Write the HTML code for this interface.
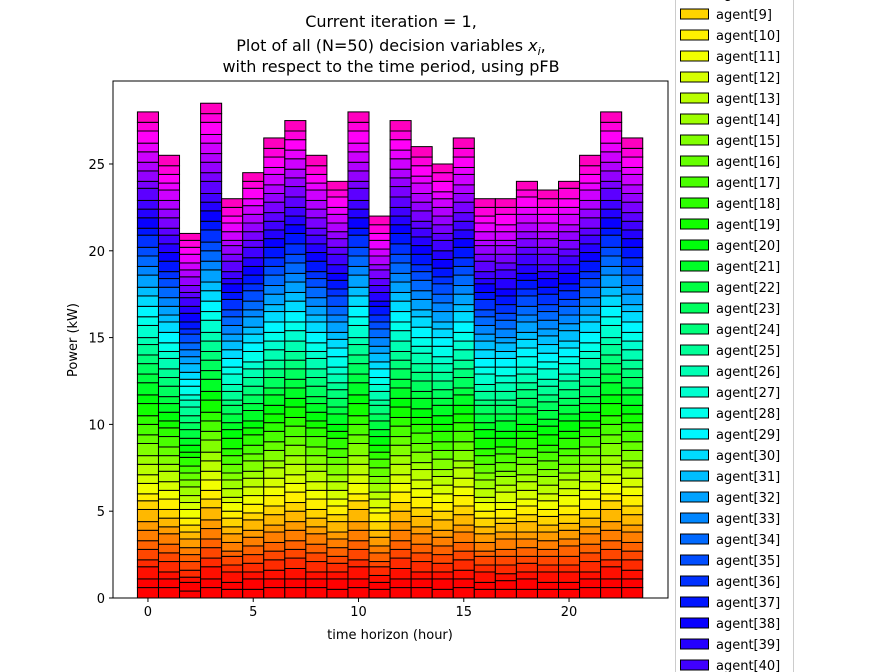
<!DOCTYPE html>
<html><head><meta charset="utf-8"><style>
html,body{margin:0;padding:0;background:#fff;}
svg{display:block;font-family:"DejaVu Sans","Liberation Sans",sans-serif;}
</style></head><body>
<svg id="chart" width="895" height="672" viewBox="0 0 895 672">
<rect width="895" height="672" fill="#fff"/>
<g font-size="16" text-anchor="middle" fill="#000">
<text x="391" y="27">Current iteration = 1,</text>
<text x="391" y="51">Plot of all (N=50) decision variables <tspan font-style="italic">x</tspan><tspan font-style="italic" font-size="11" dy="4">i</tspan><tspan dy="-4">,</tspan></text>
<text x="391" y="72">with respect to the time period, using pFB</text>
</g>
<g id="bars"></g>
<rect x="113" y="81" width="555" height="517" fill="none" stroke="#000" stroke-width="1"/>
<g id="xticks"></g>
<g id="yticks"></g>
<text x="390" y="639" font-size="13" text-anchor="middle">time horizon (hour)</text>
<text x="0" y="0" font-size="13" text-anchor="middle" transform="translate(77,340) rotate(-90)">Power (kW)</text>
<g id="legend"></g>
</svg>
<script>
const hours = [0,1,2,3,4,5,6,7,8,9,10,11,12,13,14,15,16,17,18,19,20,21,22,23];
const xTicks = [0,5,10,15,20];
const yTicks = [0,5,10,15,20,25];
// per-hour agent powers in tenths of kW (agent[0] .. agent[49])
const v0 = [6,5,7,4,6,5,6,5,7,5, 4,6,5,6,5,7,5,6,5,7, 5,7,5,6,5,6,4,7,5,6, 6,5,7,5,6,5,7,4,6,5, 5,7,4,6,5,6,5,7,5,6];
const v1 = [6,5,4,6,5,5,6,4,5,5, 6,5,5,6,4,5,5,6,5,4, 5,5,4,6,5,5,6,4,5,6, 6,4,5,5,6,5,4,6,5,5, 5,4,6,5,5,6,4,5,5,6];
const v2 = [4,5,3,4,5,4,4,5,4,4, 4,5,4,4,5,4,4,4,5,3, 4,4,5,4,4,5,4,3,5,4, 4,5,4,4,4,5,3,4,5,4, 5,3,4,5,4,4,5,4,4,4];
const v3 = [6,5,7,5,6,5,6,5,7,5, 5,6,5,6,5,7,5,6,5,7, 5,7,5,6,5,6,5,7,5,6, 6,5,7,5,6,5,7,5,6,5, 5,7,5,6,5,6,5,7,5,6];
const v4 = [5,4,6,4,5,3,5,5,4,5, 4,5,3,5,5,4,5,5,4,6, 5,4,5,5,3,5,4,6,4,5, 5,5,4,5,5,4,6,4,5,3, 4,6,4,5,3,5,5,4,5,5];
const v5 = [5,6,4,5,5,5,5,4,6,4, 5,5,5,5,4,6,4,5,6,4, 4,6,4,5,5,5,5,4,6,5, 5,4,6,4,5,6,4,5,5,5, 6,4,5,5,5,5,4,6,4,5];
const v6 = [6,5,5,6,5,5,6,4,6,5, 6,5,5,6,4,6,5,6,5,5, 5,6,4,6,5,5,6,5,5,6, 6,4,6,5,6,5,5,6,5,5, 5,5,6,5,5,6,4,6,5,6];
const v7 = [6,5,6,6,5,5,6,5,6,5, 6,5,5,6,5,6,5,6,5,6, 5,6,5,6,5,5,6,6,5,6, 6,5,6,5,6,5,6,6,5,5, 5,6,6,5,5,6,5,6,5,6];
const v8 = [6,5,4,6,5,5,6,4,5,5, 6,5,5,6,4,5,5,6,5,4, 5,5,4,6,5,5,6,4,5,6, 6,4,5,5,6,5,4,6,5,5, 5,4,6,5,5,6,4,5,5,6];
const v9 = [5,6,4,5,4,5,5,4,6,4, 5,4,5,5,4,6,4,5,6,4, 4,6,4,5,5,4,5,4,6,5, 5,4,6,4,5,6,4,5,4,5, 6,4,5,4,5,5,4,6,4,5];
const v10 = [6,5,7,4,6,5,6,5,7,5, 4,6,5,6,5,7,5,6,5,7, 5,7,5,6,5,6,4,7,5,6, 6,5,7,5,6,5,7,4,6,5, 5,7,4,6,5,6,5,7,5,6];
const v11 = [5,4,4,5,3,5,4,5,4,5, 5,3,5,4,5,4,5,5,4,4, 5,4,5,4,5,3,5,4,4,5, 4,5,4,5,5,4,4,5,3,5, 4,4,5,3,5,4,5,4,5,5];
const v12 = [6,5,6,6,5,5,6,5,6,5, 6,5,5,6,5,6,5,6,5,6, 5,6,5,6,5,5,6,6,5,6, 6,5,6,5,6,5,6,6,5,5, 5,6,6,5,5,6,5,6,5,6];
const v13 = [6,5,4,6,5,5,6,4,6,5, 6,5,5,6,4,6,5,6,5,4, 5,6,4,6,5,5,6,4,5,6, 6,4,6,5,6,5,4,6,5,5, 5,4,6,5,5,6,4,6,5,6];
const v14 = [5,6,4,5,5,5,5,4,6,5, 5,5,5,5,4,6,5,5,6,4, 5,6,4,5,5,5,5,4,6,5, 5,4,6,5,5,6,4,5,5,5, 6,4,5,5,5,5,4,6,5,5];
const v15 = [6,5,5,6,5,5,6,4,6,5, 6,5,5,6,4,6,5,6,5,5, 5,6,4,6,5,5,6,5,5,6, 6,4,6,5,6,5,5,6,5,5, 5,5,6,5,5,6,4,6,5,6];
const v16 = [5,4,6,4,5,3,5,5,4,5, 4,5,3,5,5,4,5,5,4,6, 5,4,5,5,3,5,4,6,4,5, 5,5,4,5,5,4,6,4,5,3, 4,6,4,5,3,5,5,4,5,5];
const v17 = [5,5,4,5,5,4,6,4,5,3, 5,4,6,4,5,3,5,5,4,5, 4,6,4,5,3,5,5,4,5,5, 4,5,3,5,5,4,5,5,4,6, 5,4,5,5,3,5,4,6,4,5];
const v18 = [5,6,4,5,4,5,5,4,6,4, 5,4,5,5,4,6,4,5,6,4, 4,6,4,5,5,4,5,4,6,5, 5,4,6,4,5,6,4,5,4,5, 6,4,5,4,5,5,4,6,4,5];
const v19 = [5,4,6,4,5,4,5,5,4,5, 4,5,4,5,5,4,5,5,4,6, 5,4,5,5,4,5,4,6,4,5, 5,5,4,5,5,4,6,4,5,4, 4,6,4,5,4,5,5,4,5,5];
const v20 = [5,4,6,4,5,6,4,5,4,5, 5,6,4,5,4,5,5,4,6,4, 6,4,5,4,5,5,4,6,4,5, 4,6,4,5,5,4,5,4,6,5, 5,4,5,5,4,6,4,5,6,4];
const v21 = [6,5,4,6,5,5,6,4,5,5, 6,5,5,6,4,5,5,6,5,4, 5,5,4,6,5,5,6,4,5,6, 6,4,5,5,6,5,4,6,5,5, 5,4,6,5,5,6,4,5,5,6];
const v22 = [6,5,7,4,6,5,6,5,7,5, 4,6,5,6,5,7,5,6,5,7, 5,7,5,6,5,6,4,7,5,6, 6,5,7,5,6,5,7,4,6,5, 5,7,4,6,5,6,5,7,5,6];
const v23 = [6,5,5,6,5,5,6,4,6,5, 6,5,5,6,4,6,5,6,5,5, 5,6,4,6,5,5,6,5,5,6, 6,4,6,5,6,5,5,6,5,5, 5,5,6,5,5,6,4,6,5,6];
const hourValues = [v0,v1,v2,v3,v4,v5,v6,v7,v8,v9,v10,v11,v12,v13,v14,v15,v16,v17,v18,v19,v20,v21,v22,v23];
const legendAgents = [8,9,10,11,12,13,14,15,16,17,18,19,20,21,22,23,24,25,26,27,28,29,30,31,32,33,34,35,36,37,38,39,40,41];

const NS = "http://www.w3.org/2000/svg";
const X0 = 113, X1 = 668, Y0 = 598, Y1 = 81;
const xMin = -1.66, xMax = 24.7, yMin = 0, yMax = 29.78;
const xs = v => X0 + (v - xMin) / (xMax - xMin) * (X1 - X0);
const ys = v => Y0 - (v - yMin) / (yMax - yMin) * (Y0 - Y1);

function gistRainbow(t) {
  const stops = [[0,1,0,0],[0.03,1,0,0],[0.215,1,1,0],[0.4,0,1,0],[0.586,0,1,1],[0.77,0,0,1],[0.954,1,0,1],[1,1,0,0.75]];
  for (let i = 1; i < stops.length; i++) {
    if (t <= stops[i][0]) {
      const a = stops[i-1], b = stops[i];
      const f = (t - a[0]) / (b[0] - a[0] || 1);
      const c = [1,2,3].map(k => Math.round(255 * (a[k] + (b[k] - a[k]) * f)));
      return `rgb(${c[0]},${c[1]},${c[2]})`;
    }
  }
  return "rgb(255,0,191)";
}
const colorOf = i => gistRainbow(i / 49);

function mk(tag, attrs, parent) {
  const el = document.createElementNS(NS, tag);
  for (const k in attrs) el.setAttribute(k, attrs[k]);
  parent.appendChild(el);
  return el;
}

const barsG = document.getElementById("bars");
hours.forEach((h, hi) => {
  let base = 0;
  hourValues[hi].forEach((tv, ai) => {
    const v = tv / 10;
    const yTop = ys(base + v), yBot = ys(base);
    const r = mk("rect", {x: xs(h - 0.5), y: yTop, width: xs(h + 0.5) - xs(h - 0.5), height: Math.max(0, yBot - yTop), fill: colorOf(ai), stroke: "#000", "stroke-width": 1}, barsG);
    
    
    base += v;
  });
});

const xg = document.getElementById("xticks");
xTicks.forEach(t => {
  const l = mk("line", {x1: xs(t), x2: xs(t), y1: Y0, y2: Y0 + 4, stroke: "#000"}, xg);
  
  
  const tx = mk("text", {x: xs(t), y: Y0 + 18, "font-size": 13, "text-anchor": "middle"}, xg);
  tx.textContent = t;
  
  
});
const yg = document.getElementById("yticks");
yTicks.forEach(t => {
  const l = mk("line", {x1: X0 - 4, x2: X0, y1: ys(t), y2: ys(t), stroke: "#000"}, yg);
  
  
  const tx = mk("text", {x: X0 - 8, y: ys(t) + 5, "font-size": 13, "text-anchor": "end"}, yg);
  tx.textContent = t;
  
  
});

const lg = document.getElementById("legend");
const frame = mk("rect", {x: 675.5, y: -20, width: 118, height: 720, fill: "#fff", stroke: "#ccc", "stroke-width": 1}, lg);


legendAgents.forEach(a => {
  const cy = 14 + (a - 9) * 21;
  const g = mk("g", {}, lg);
  
  
  mk("rect", {x: 680.5, y: cy - 5, width: 28, height: 10, fill: colorOf(a), stroke: "#000", "stroke-width": 1}, g);
  const t = mk("text", {x: 716, y: cy + 5, "font-size": 13}, g);
  t.textContent = "agent[" + a + "]";
});
</script>
</body></html>
